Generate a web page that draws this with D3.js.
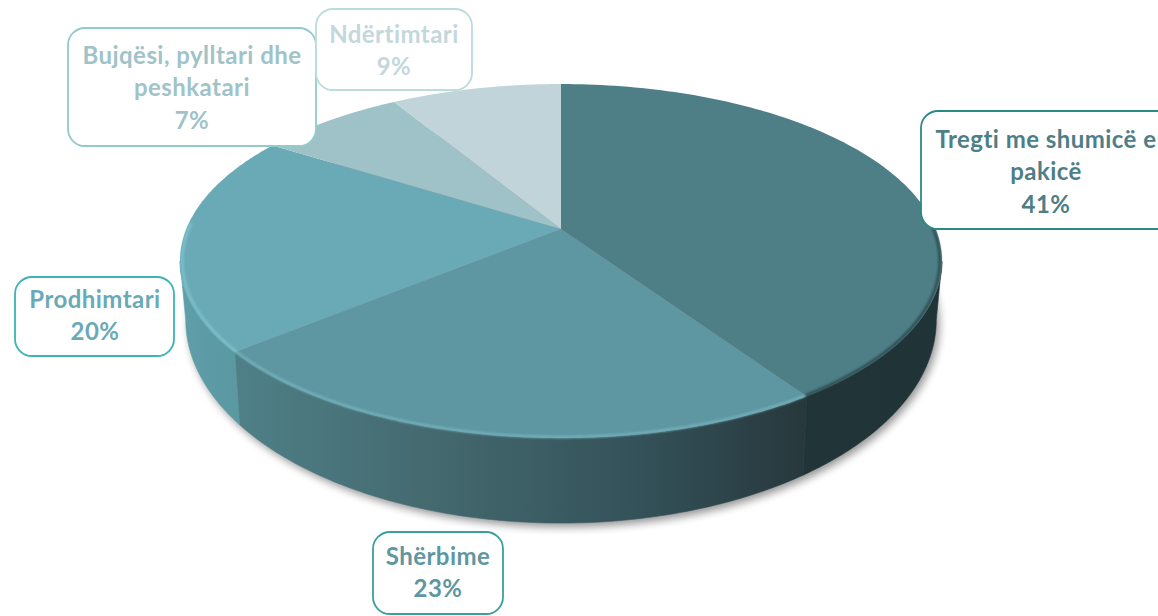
<!DOCTYPE html>
<html>
<head>
<meta charset="utf-8">
<script src="https://cdn.jsdelivr.net/npm/d3@7"></script>
<style>
  html, body { margin: 0; padding: 0; background: #fff; overflow: hidden; }
  svg { display: block; font-family: Lato, sans-serif; font-weight: 700; font-variant-ligatures: none; }
</style>
</head>
<body>
<div id="chart"></div>
<script>
var categories = ['Tregti me shumicë e pakicë', 'Shërbime', 'Prodhimtari', 'Bujqësi, pylltari dhe peshkatari', 'Ndërtimtari'];
var shares = [40.6, 23.4, 20, 7.4, 8.6];
var topColors = ['#4e7e86', '#5e96a1', '#6aaab6', '#9fc2c8', '#c0d4d9'];
var textColors = ['#4e7e86', '#5e96a1', '#6aaab6', '#a0c3ca', '#c3d7dc'];
var borderColors = ['#2a8a88', '#3aa09e', '#3db3b3', '#92cbcb', '#bcdcdc'];
var labelLines = [['Tregti me shumicë e', 'pakicë'], ['Shërbime'], ['Prodhimtari'], ['Bujqësi, pylltari dhe', 'peshkatari'], ['Ndërtimtari']];
var labelBoxes = [[921, 111, 260, 118], [373, 532, 130, 82], [15, 277, 159, 79], [68, 28, 248, 118], [316, 9, 156, 81]];
var textCenterX = [1046, 438, 95, 192, 394];
var firstBaseline = [148, 565, 308, 64, 43];

var width = 1158, height = 616;
var cx = 561, cy = 229;
// perspective of the tilted disc
var a = 374.7, b = 171.2, k = 0.181;
var sideAngle = Math.acos(-k);

function project(angle) {
  var u = Math.sin(angle), v = -Math.cos(angle), w = 1 - k * v;
  return [cx + a * u / w, cy + b * v / w];
}
function rim(start, end) {
  return d3.range(0, 121).map(function (i) {
    return project(start + (end - start) * i / 120);
  });
}
// the lower disc is a little narrower and taller than the top one
function lower(p) {
  return [cx + (p[0] - cx) * 0.985, p[1] + 72 + (p[1] - 350) * 0.148];
}
function inset(p, s) {
  return [cx + (p[0] - cx) * s, 261 + (p[1] - 261) * s];
}

var svg = d3.select('#chart').append('svg').attr('width', width).attr('height', height);
var defs = svg.append('defs');
var line = d3.line();

var pie = d3.pie().sort(null).value(function (d) { return d; });
var slices = pie(shares);

defs.append('filter').attr('id', 'shadow').attr('x', '-10%').attr('y', '-10%').attr('width', '120%').attr('height', '130%')
  .append('feGaussianBlur').attr('stdDeviation', 4);
defs.append('filter').attr('id', 'soft').attr('x', '-5%').attr('y', '-5%').attr('width', '110%').attr('height', '110%')
  .append('feGaussianBlur').attr('stdDeviation', 1.3);

var sideStops = [
  [[0, '#213538'], [1, '#203336']],
  [[0, '#4f8088'], [0.35, '#44696f'], [0.7, '#34525a'], [1, '#27383c']],
  [[0, '#5f9fa9'], [1, '#5a98a2']]
];
var sideX = [[806, 942], [232, 806], [180, 236]];
sideStops.forEach(function (stops, i) {
  var g = defs.append('linearGradient').attr('id', 'side' + i)
    .attr('gradientUnits', 'userSpaceOnUse')
    .attr('x1', sideX[i][0]).attr('x2', sideX[i][1]).attr('y1', 0).attr('y2', 0);
  stops.forEach(function (s) {
    g.append('stop').attr('offset', s[0]).attr('stop-color', s[1]);
  });
});

// soft shadow under the whole disc
svg.append('path')
  .attr('d', line(rim(0, 2 * Math.PI).map(lower).map(function (p) { return [p[0] + 3, p[1] + 4]; })) + 'Z')
  .attr('fill', '#000').attr('opacity', 0.42).attr('filter', 'url(#shadow)');

// side wall, only the front part of each slice shows
var sideRanges = [
  [sideAngle, slices[0].endAngle],
  [slices[1].startAngle, slices[1].endAngle],
  [slices[2].startAngle, 2 * Math.PI - sideAngle]
];
sideRanges.forEach(function (r, i) {
  var edge = rim(r[0], r[1]);
  svg.append('path')
    .attr('d', line(edge.concat(edge.map(lower).reverse())) + 'Z')
    .attr('fill', 'url(#side' + i + ')')
    .attr('stroke', 'url(#side' + i + ')').attr('stroke-width', 0.6);
});

// top faces
svg.selectAll('path.slice')
  .data(slices)
  .enter()
  .append('path')
  .attr('class', 'slice')
  .attr('d', function (d) {
    return line([[cx, cy]].concat(rim(d.startAngle, d.endAngle))) + 'Z';
  })
  .attr('fill', function (d, i) { return topColors[i]; });

// bevel along the front rim
var bevelColors = ['#2b474c', '#74b3bd', '#7cc4cf'];
var bevelRanges = [[1.45, slices[0].endAngle], [slices[1].startAngle, slices[1].endAngle], [slices[2].startAngle, 4.75]];
bevelRanges.forEach(function (r, i) {
  svg.append('path')
    .attr('d', line(rim(r[0], r[1]).map(function (p) { return inset(p, 0.994); })))
    .attr('fill', 'none')
    .attr('stroke', bevelColors[i])
    .attr('stroke-width', 2.4)
    .attr('filter', 'url(#soft)');
});

// labels
var labels = svg.selectAll('g.label')
  .data(categories)
  .enter()
  .append('g')
  .attr('class', 'label');

labels.append('rect')
  .attr('x', function (d, i) { return labelBoxes[i][0]; })
  .attr('y', function (d, i) { return labelBoxes[i][1]; })
  .attr('width', function (d, i) { return labelBoxes[i][2]; })
  .attr('height', function (d, i) { return labelBoxes[i][3]; })
  .attr('rx', 17)
  .attr('fill', '#fff')
  .attr('stroke', function (d, i) { return borderColors[i]; })
  .attr('stroke-width', 1.8);

labels.each(function (d, i) {
  var rows = labelLines[i].concat(Math.round(shares[i]) + '%');
  d3.select(this).selectAll('text')
    .data(rows)
    .enter()
    .append('text')
    .attr('x', textCenterX[i])
    .attr('y', function (t, j) { return firstBaseline[i] + j * 32.4; })
    .attr('text-anchor', 'middle')
    .attr('font-size', 24)
    .attr('letter-spacing', 0.45)
    .attr('fill', textColors[i])
    .text(function (t) { return t; });
});
</script>
</body>
</html>
